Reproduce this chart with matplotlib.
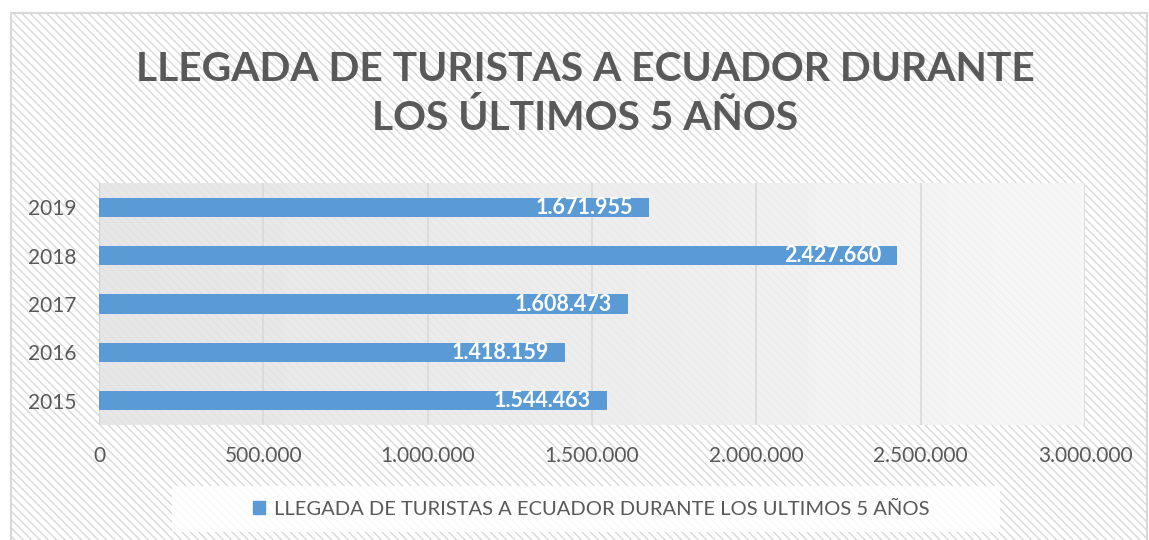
import numpy as np
import matplotlib.pyplot as plt
from matplotlib.patches import Rectangle
from matplotlib.colors import LinearSegmentedColormap
from matplotlib.ticker import FuncFormatter

# datos
years = ['2015', '2016', '2017', '2018', '2019']
turistas = [1544463, 1418159, 1608473, 2427660, 1671955]
x_ticks = [0, 500000, 1000000, 1500000, 2000000, 2500000, 3000000]

titulo = 'LLEGADA DE TURISTAS A ECUADOR DURANTE\nLOS ÚLTIMOS 5 AÑOS'
serie = 'LLEGADA DE TURISTAS A ECUADOR DURANTE LOS ULTIMOS 5 AÑOS'

color_barra = '#5B9BD5'
gris_texto = '#595959'

plt.rcParams['font.family'] = ['Lato', 'DejaVu Sans']
plt.rcParams['hatch.color'] = '#efefef'


def miles(v, pos=None):
    return f'{int(v):,}'.replace(',', '.')


fig = plt.figure(figsize=(11.49, 5.40), dpi=100)

# fondo con rayas diagonales y borde
fondo = Rectangle((11 / 1149, -0.01), 1 - 13 / 1149, 1 - 13 / 540 + 0.01,
                  transform=fig.transFigure, facecolor='white', edgecolor='#d9d9d9',
                  hatch='\\\\\\\\', linewidth=1.5, zorder=-10)
fig.patches.append(fondo)

ax = fig.add_axes([99 / 1149, 1 - 425 / 540, (1085 - 99) / 1149, (425 - 183) / 540])
ax.set_facecolor('none')

# sombra del area de trazado
grad = np.linspace(0, 1, 256).reshape(1, -1)
cmap = LinearSegmentedColormap.from_list('g', ['#e4e4e4', '#ececec', '#f7f7f7'])
ax.imshow(grad, extent=[0, 3000000, -0.5, 4.5], aspect='auto', cmap=cmap,
          zorder=0, alpha=0.9)

y = np.arange(len(years))
ax.barh(y, turistas, height=0.4, color=color_barra, zorder=3)

for yi, v in zip(y, turistas):
    ax.text(v - 48000, yi, miles(v), ha='right', va='center', color='white',
            fontsize=15.5, fontweight='bold', zorder=4)

ax.set_xlim(0, 3000000)
ax.set_ylim(-0.5, 4.5)
ax.set_xticks(x_ticks)
ax.xaxis.set_major_formatter(FuncFormatter(miles))
ax.set_yticks(y)
ax.set_yticklabels(years)
ax.tick_params(axis='both', length=0, labelsize=15, labelcolor=gris_texto)
ax.tick_params(axis='x', pad=15)
ax.tick_params(axis='y', pad=16)
ax.grid(axis='x', color='#d9d9d9', linewidth=1.2, zorder=1)
for s in ax.spines.values():
    s.set_visible(False)
ax.axvline(0, color='#d0d0d0', linewidth=1.2, zorder=2)

fig.text(585 / 1149, 1 - 94 / 540, titulo, ha='center', va='center', fontsize=29.3,
         fontweight='bold', color=gris_texto, linespacing=1.35)

# leyenda
leg_box = Rectangle((172 / 1149, 1 - 532 / 540), (1000 - 172) / 1149, 46 / 540,
                    transform=fig.transFigure, facecolor='white', edgecolor='none',
                    alpha=0.85, zorder=-5)
fig.patches.append(leg_box)
leg = fig.legend([Rectangle((0, 0), 1, 1, color=color_barra)], [serie],
                 loc='center', bbox_to_anchor=(591 / 1149, 1 - 509 / 540),
                 frameon=False, fontsize=14.5, handlelength=0.6, handleheight=0.6,
                 handletextpad=0.45)
for t in leg.get_texts():
    t.set_color(gris_texto)

fig.savefig('out.png', dpi=100)
